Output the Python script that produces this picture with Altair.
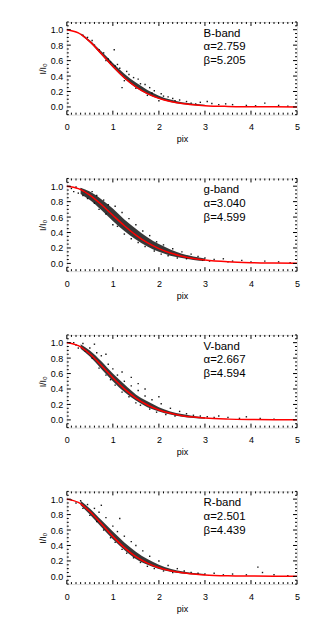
import altair as alt
import pandas as pd

# ---------------- data ----------------
X_CURVE = [0, 0.25, 0.5, 0.75, 1.0, 1.25, 1.5, 1.75, 2.0, 2.25, 2.5, 2.75, 3.0, 3.5, 4.0, 4.5, 5.0]
B_CURVE = [1.0, 0.958, 0.845, 0.690, 0.526, 0.378, 0.260, 0.172, 0.111, 0.070, 0.044, 0.028, 0.017, 0.007, 0.003, 0.001, 0.0005]
G_CURVE = [1.0, 0.969, 0.884, 0.762, 0.623, 0.488, 0.367, 0.268, 0.191, 0.134, 0.093, 0.064, 0.044, 0.021, 0.010, 0.005, 0.002]
V_CURVE = [1.0, 0.961, 0.853, 0.705, 0.546, 0.402, 0.283, 0.193, 0.129, 0.085, 0.055, 0.036, 0.023, 0.010, 0.0045, 0.002, 0.001]
R_CURVE = [1.0, 0.957, 0.840, 0.682, 0.518, 0.372, 0.256, 0.171, 0.111, 0.072, 0.046, 0.030, 0.019, 0.008, 0.004, 0.0016, 0.0008]

BAND_X = [0.3, 0.5, 0.75, 1.0, 1.25, 1.5, 1.75, 2.0, 2.25, 2.5, 2.75, 3.0]
B_LO = [0.935, 0.835, 0.675, 0.51, 0.365, 0.25, 0.165, 0.105, 0.064, 0.038, 0.022, 0.012]
B_HI = [0.955, 0.865, 0.72, 0.57, 0.43, 0.315, 0.22, 0.145, 0.095, 0.062, 0.042, 0.028]
G_LO = [0.90, 0.82, 0.69, 0.55, 0.42, 0.31, 0.22, 0.15, 0.10, 0.07, 0.045, 0.03]
G_HI = [0.98, 0.93, 0.83, 0.71, 0.57, 0.45, 0.34, 0.25, 0.18, 0.125, 0.09, 0.065]
V_LO = [0.92, 0.82, 0.66, 0.50, 0.36, 0.25, 0.165, 0.11, 0.07, 0.042, 0.026, 0.015]
V_HI = [0.98, 0.90, 0.76, 0.60, 0.46, 0.33, 0.24, 0.165, 0.11, 0.075, 0.05, 0.035]
R_LO = [0.92, 0.80, 0.64, 0.48, 0.34, 0.225, 0.15, 0.095, 0.06, 0.037, 0.023, 0.013]
R_HI = [0.98, 0.88, 0.73, 0.58, 0.44, 0.32, 0.225, 0.15, 0.10, 0.066, 0.045, 0.03]

B_PX = [0.35, 0.45, 0.55, 0.6, 0.7, 0.8, 0.85, 0.95, 1.05, 1.1, 1.15, 1.3, 1.35, 1.45, 1.55, 1.6, 1.7, 1.8,
        1.85, 1.9, 2.05, 2.1, 2.2, 2.3, 2.35, 2.45, 2.6, 2.7, 2.8, 0.9, 1.25, 1.5, 1.75, 2.0, 1.03, 1.2,
        2.9, 3.05, 3.15, 3.3, 3.45, 3.6, 3.9, 4.1, 4.3, 4.6, 4.8]
B_PY = [0.93, 0.90, 0.86, 0.80, 0.74, 0.70, 0.60, 0.58, 0.53, 0.55, 0.50, 0.46, 0.42, 0.38, 0.36, 0.30, 0.29, 0.25,
        0.18, 0.21, 0.17, 0.14, 0.13, 0.11, 0.08, 0.09, 0.07, 0.05, 0.04, 0.62, 0.34, 0.24, 0.15, 0.08, 0.74, 0.25,
        0.06, 0.07, 0.045, 0.03, 0.04, 0.03, 0.02, 0.015, 0.05, 0.02, 0.01]

G_PX = [0.1, 0.15, 0.2, 0.25, 0.3, 0.35, 0.4, 0.45, 0.55, 0.6, 0.65, 0.7, 0.8, 0.85, 0.9, 1.0, 1.05, 1.1,
        1.2, 1.25, 1.35, 1.4, 1.5, 1.55, 1.65, 1.7, 1.8, 1.9, 1.95, 2.05, 2.1, 2.2, 2.3, 2.4, 2.5, 2.6, 2.7,
        2.85, 2.95, 3.0, 3.1, 3.2, 3.4, 3.5, 3.6, 3.8, 4.0, 4.3, 4.6, 4.85]
G_PY = [0.97, 0.93, 0.99, 0.91, 0.96, 0.88, 0.92, 0.84, 0.93, 0.78, 0.88, 0.70, 0.82, 0.64, 0.76, 0.50, 0.74, 0.48,
        0.66, 0.38, 0.58, 0.32, 0.50, 0.27, 0.42, 0.22, 0.36, 0.16, 0.28, 0.12, 0.24, 0.10, 0.19, 0.07, 0.15, 0.06, 0.12,
        0.09, 0.04, 0.07, 0.03, 0.05, 0.06, 0.02, 0.03, 0.04, 0.02, 0.03, 0.02, 0.01]

V_PX = [0.15, 0.2, 0.25, 0.35, 0.4, 0.5, 0.55, 0.6, 0.65, 0.7, 0.75, 0.85, 0.9, 0.95, 1.0, 1.05, 1.1, 1.2,
        1.25, 1.35, 1.4, 1.5, 1.55, 1.6, 1.7, 1.8, 1.85, 1.95, 2.05, 2.15, 2.25, 2.35, 2.45, 2.6, 2.75, 2.9,
        3.05, 3.2, 3.3, 3.5, 3.75, 3.9, 4.2, 4.5, 1.2, 1.4, 1.7, 2.0, 1.55, 0.85]
V_PY = [1.0, 0.97, 0.93, 0.99, 0.89, 0.93, 0.80, 0.98, 0.87, 0.67, 0.83, 0.58, 0.72, 0.52, 0.66, 0.45, 0.58, 0.36,
        0.50, 0.30, 0.44, 0.22, 0.38, 0.19, 0.31, 0.14, 0.26, 0.10, 0.21, 0.07, 0.15, 0.05, 0.11, 0.08, 0.06, 0.05,
        0.04, 0.03, 0.05, 0.03, 0.02, 0.04, 0.02, 0.01, 0.62, 0.55, 0.40, 0.30, 0.47, 0.85]

R_PX = [0.1, 0.2, 0.3, 0.35, 0.45, 0.5, 0.6, 0.65, 0.7, 0.8, 0.85, 0.95, 1.0, 1.05, 1.1, 1.2, 1.25, 1.3,
        1.4, 1.45, 1.5, 1.6, 1.65, 1.75, 1.8, 1.9, 2.0, 2.1, 2.2, 2.3, 2.4, 2.55, 2.7, 2.85, 3.0, 3.2, 3.4,
        3.6, 3.9, 4.15, 4.25, 4.5, 4.8, 0.75, 1.15]
R_PY = [0.99, 0.95, 0.98, 0.88, 0.93, 0.79, 0.88, 0.71, 0.83, 0.60, 0.76, 0.50, 0.65, 0.44, 0.58, 0.35, 0.52, 0.30,
        0.45, 0.24, 0.40, 0.18, 0.33, 0.13, 0.26, 0.10, 0.20, 0.07, 0.14, 0.05, 0.10, 0.07, 0.05, 0.04, 0.03, 0.04, 0.02,
        0.03, 0.02, 0.12, 0.05, 0.02, 0.01, 0.92, 0.75]

PANELS = [
    ("B-band", "α=2.759", "β=5.205", B_CURVE, B_LO, B_HI, B_PX, B_PY),
    ("g-band", "α=3.040", "β=4.599", G_CURVE, G_LO, G_HI, G_PX, G_PY),
    ("V-band", "α=2.667", "β=4.594", V_CURVE, V_LO, V_HI, V_PX, V_PY),
    ("R-band", "α=2.501", "β=4.439", R_CURVE, R_LO, R_HI, R_PX, R_PY),
]

X_MAJOR = [0, 1, 2, 3, 4, 5]
X_MINOR = [round(i * 0.1, 1) for i in range(51) if i % 10 != 0]
Y_MAJOR = [0.0, 0.2, 0.4, 0.6, 0.8, 1.0]
Y_MINOR = [round(-0.1 + i * 0.05, 2) for i in range(25) if round(-0.1 + i * 0.05, 2) not in (0.0, 0.2, 0.4, 0.6, 0.8, 1.0)]
TEXT_X = [2.97, 2.97, 2.97]
TEXT_Y = [0.95, 0.77, 0.59]

# ---------------- chart ----------------
W, H = 231, 93
FONT = "Liberation Sans"
xs = alt.Scale(domain=[0, 5], nice=False, zero=False)
ys = alt.Scale(domain=[-0.1, 1.1], nice=False, zero=False)
xaxis = alt.Axis(values=X_MAJOR, format="d", ticks=False, domain=False, grid=False,
                 labelFont=FONT, labelFontSize=9, labelColor="black", labelPadding=8,
                 labelFlush=False, titleFont=FONT, titleFontSize=9, titleFontWeight="normal",
                 titleColor="black", titlePadding=3)
yaxis = alt.Axis(values=Y_MAJOR, format=".1f", ticks=False, domain=False, grid=False,
                 labelFont=FONT, labelFontSize=9, labelColor="black", labelPadding=4,
                 labelFlush=False, titleFont=FONT, titleFontSize=9, titleFontWeight="normal",
                 titleColor="black", titlePadding=3)


def X(f):
    return alt.X(f, type="quantitative", scale=xs, axis=xaxis, title="pix")


def Y(f):
    return alt.Y(f, type="quantitative", scale=ys, axis=yaxis, title="I/I₀")


def panel(name, a_txt, b_txt, curve, lo, hi, px, py):
    cdf = pd.DataFrame({"x": X_CURVE, "y": curve})
    bdf = pd.DataFrame({"x": BAND_X, "lo": lo, "hi": hi})
    pdf = pd.DataFrame({"x": px, "y": py})
    tdf = pd.DataFrame({"x": TEXT_X, "y": TEXT_Y, "t": [name, a_txt, b_txt]})
    xmaj = pd.DataFrame({"t": X_MAJOR})
    xmin = pd.DataFrame({"t": X_MINOR})
    ymaj = pd.DataFrame({"t": Y_MAJOR})
    ymin = pd.DataFrame({"t": Y_MINOR})

    band = alt.Chart(bdf).mark_area(color="black", opacity=0.78, interpolate="monotone").encode(
        x=X("x"), y=Y("lo"), y2="hi")
    pts = alt.Chart(pdf).mark_square(color="black", size=2, opacity=0.9).encode(x=X("x"), y=Y("y"))
    line = alt.Chart(cdf).mark_line(color="#ff0000", strokeWidth=1.5, interpolate="monotone").encode(
        x=X("x"), y=Y("y"))
    txt = alt.Chart(tdf).mark_text(align="left", baseline="middle", font=FONT, fontSize=11.5,
                                   color="black").encode(x=X("x"), y=Y("y"), text="t:N")
    r = dict(color="black", strokeWidth=1)
    ticks = [
        alt.Chart(xmaj).mark_rule(**r).encode(x=X("t"), y=alt.value(0), y2=alt.value(4)),
        alt.Chart(xmaj).mark_rule(**r).encode(x=X("t"), y=alt.value(H), y2=alt.value(H - 4)),
        alt.Chart(xmin).mark_rule(**r).encode(x=X("t"), y=alt.value(0), y2=alt.value(2)),
        alt.Chart(xmin).mark_rule(**r).encode(x=X("t"), y=alt.value(H), y2=alt.value(H - 2)),
        alt.Chart(ymaj).mark_rule(**r).encode(y=Y("t"), x=alt.value(0), x2=alt.value(4)),
        alt.Chart(ymaj).mark_rule(**r).encode(y=Y("t"), x=alt.value(W), x2=alt.value(W - 4)),
        alt.Chart(ymin).mark_rule(**r).encode(y=Y("t"), x=alt.value(0), x2=alt.value(2)),
        alt.Chart(ymin).mark_rule(**r).encode(y=Y("t"), x=alt.value(W), x2=alt.value(W - 2)),
    ]
    return alt.layer(band, pts, line, *ticks, txt).properties(width=W, height=H)


chart = alt.vconcat(*[panel(*p) for p in PANELS], spacing=33).properties(
    padding={"left": 29, "top": 12, "right": 5, "bottom": 5}
).configure_view(stroke="black", strokeWidth=1, clip=True).configure(background="white")

chart.save("out.html", embed_options={"renderer": "svg", "actions": False})
